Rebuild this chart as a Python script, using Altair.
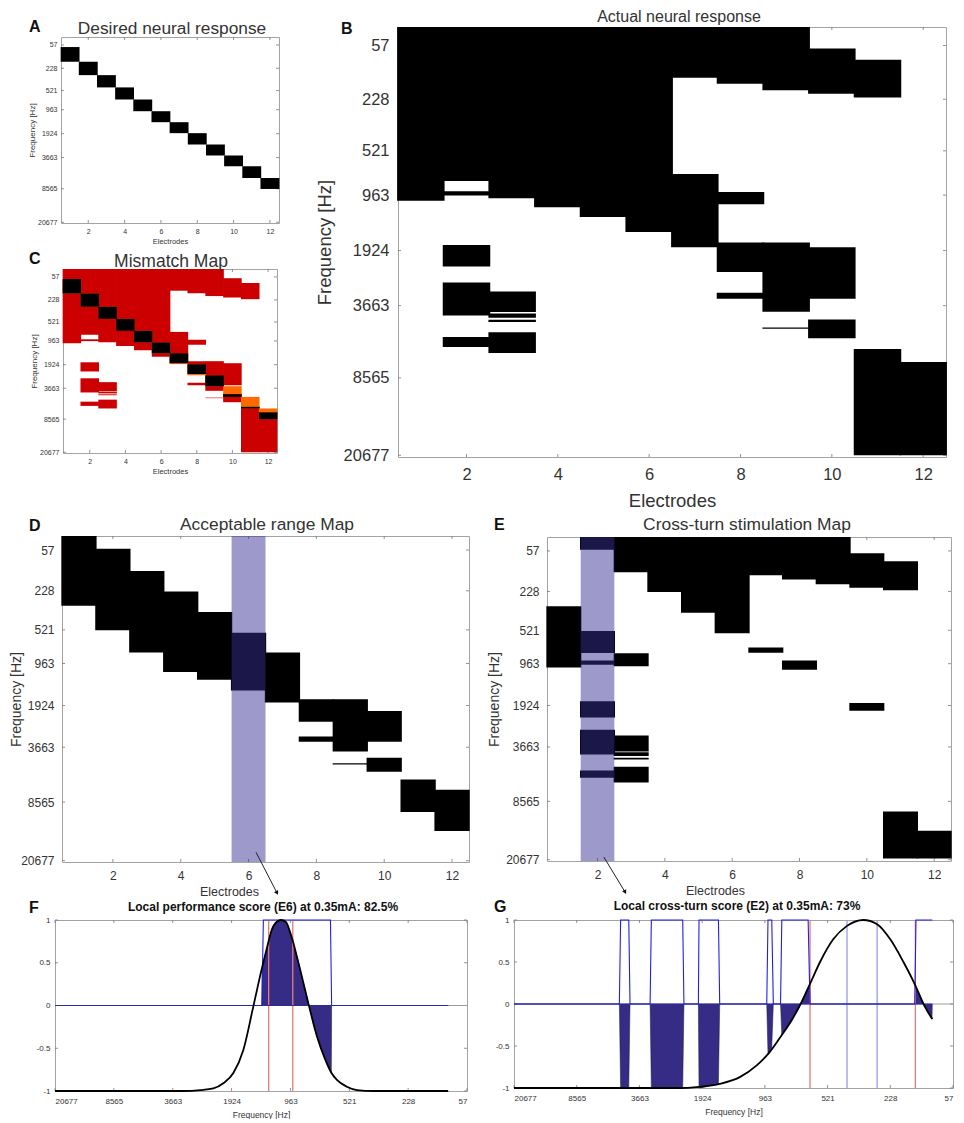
"""Neural response maps: desired, actual, mismatch, acceptable range, cross-turn,
plus the two local score curves underneath.

Map values are in percent of the way down the frequency axis (0 = top edge,
100 = bottom edge), since the axis is not a plain log scale.
"""
import json

import altair as alt
import pandas as pd

FONT = "Liberation Sans"
_INK = "#333333"
_FRAME = "#a3a3a3"
_RED = "#cc0000"
_ORANGE = "#ff6a00"
_PURPLE = "#382e92"   # see-through: pale lilac on white, navy on black
_FILL = "#362c86"
_BLUE = "#2020e0"

FREQ_TICKS = [4.3, 16.8, 28.8, 39.1, 52.0, 64.8, 81.6, 99.6]
FREQ_LABELS = ["57", "228", "521", "963", "1924", "3663", "8565", "20677"]
ELECTRODE_TICKS = [2, 4, 6, 8, 10, 12]

# F and G run along the frequency axis backwards, one unit per label
SCORE_X_TICKS = [0, 1, 2, 3, 4, 5, 6, 7]
SCORE_X_LABELS = ["20677", "8565", "3663", "1924", "963", "521", "228", "57"]
SCORE_Y_TICKS = [-1, -0.5, 0, 0.5, 1]

# A: desired response
A_ELECTRODE = [1, 2, 3, 4, 5, 6, 7, 8, 9, 10, 11, 12]
A_TOP = [5.4, 13.3, 20.5, 27.1, 33.6, 39.9, 45.8, 51.7, 57.8, 63.7, 69.5, 75.8]
A_BOTTOM = [13.3, 20.5, 27.1, 33.6, 39.9, 45.8, 51.7, 57.8, 63.7, 69.5, 75.8, 81.7]

# B: actual response
B_ELECTRODE = [1, 2, 2, 2, 2, 2, 3, 3, 3, 3, 3, 4, 5, 6, 7, 7, 8, 8, 8, 8,
               9, 9, 9, 10, 10, 10, 11, 11, 12]
B_TOP = [0, 0, 38.2, 50.7, 59.4, 72.1, 0, 61.5, 66.6, 68.1, 71.0, 0, 0, 0, 0, 34.2,
         0, 38.4, 50.1, 61.8, 0, 50.1, 69.9, 5.0, 51.2, 68.0, 7.6, 74.9, 77.9]
B_BOTTOM = [40.4, 35.8, 39.2, 55.7, 67.1, 74.4, 39.8, 66.3, 67.6, 68.6, 75.8, 41.9,
            44.2, 47.7, 11.8, 51.2, 13.2, 41.2, 57.0, 63.2, 14.7, 66.2, 70.2, 15.5,
            63.2, 72.4, 16.4, 99.6, 99.6]

# D: acceptable range
D_ELECTRODE = [1, 2, 3, 4, 5, 6, 7, 8, 8, 9, 9, 10, 10, 11, 12]
D_TOP = [0, 3.9, 10.7, 17.0, 23.3, 29.7, 35.7, 50.1, 61.5, 50.1, 69.7, 53.7, 68.0, 74.7, 77.8]
D_BOTTOM = [21.4, 28.9, 35.7, 41.7, 44.1, 47.4, 51.1, 57.0, 63.1, 66.1, 70.1, 63.1, 72.3, 84.7, 90.5]

# E: cross-turn stimulation
E_ELECTRODE = [1, 2, 2, 2, 2, 2, 2, 3, 3, 3, 3, 3, 3, 4, 5, 6, 7, 7, 8, 8, 9, 10, 10, 11, 11, 12]
E_TOP = [21.4, 0, 29.0, 38.1, 50.7, 59.5, 72.1, 0, 35.9, 61.3, 66.4, 68.1, 70.9, 0, 0, 0,
         0, 34.1, 0, 38.1, 0, 5.0, 51.2, 7.5, 84.7, 90.7]
E_BOTTOM = [40.3, 3.9, 35.8, 39.4, 55.7, 67.1, 74.3, 10.9, 39.9, 66.2, 67.6, 68.7, 75.8, 17.0,
            23.4, 29.7, 11.8, 35.7, 13.1, 41.0, 14.6, 15.7, 53.6, 16.4, 99.2, 99.2]

# F: local performance score, electrode 6
F_CURVE_X = [0, 2.18, 2.47, 2.69, 2.86, 3.03, 3.2, 3.37, 3.51, 3.6, 3.68, 3.77, 3.84,
             3.92, 4.02, 4.14, 4.31, 4.45, 4.59, 4.69, 4.79, 4.96, 5.13, 5.41, 6.68]
F_CURVE_Y = [-1, -1, -0.99, -0.97, -0.91, -0.79, -0.52, -0.01, 0.42, 0.67, 0.88, 0.98, 1,
             0.98, 0.8, 0.49, 0.01, -0.36, -0.63, -0.78, -0.87, -0.95, -0.99, -1, -1]
F_RESPONSE_X = [0, 3.515, 3.54, 4.68, 4.70, 6.68]
F_RESPONSE_Y = [0, 0, 1, 1, 0, 0]
F_FILL_SEG = [1, 1, 1, 1, 1, 1, 1, 1, 1, 1, 1, 1, 1, 1, 1]
F_FILL_X = [3.515, 3.52, 3.6, 3.68, 3.77, 3.84, 3.92, 4.02, 4.14, 4.31, 4.45, 4.59, 4.69, 4.695, 4.70]
F_FILL_Y = [0, 0.42, 0.67, 0.88, 0.98, 1, 0.98, 0.8, 0.49, 0.01, -0.36, -0.63, -0.78, -0.8, 0]
F_RED_X = [3.63, 4.04]
F_PALE_X = []

# G: local cross-turn score, electrode 2
G_CURVE_X = [0, 2.65, 2.91, 3.28, 3.6, 3.87, 4.08, 4.27, 4.43, 4.57, 4.72, 4.88, 5.09,
             5.31, 5.57, 5.79, 6.0, 6.21, 6.4, 6.53, 6.67]
G_CURVE_Y = [-1, -1, -0.99, -0.95, -0.87, -0.73, -0.57, -0.37, -0.19, 0, 0.24, 0.5, 0.77,
             0.93, 1, 0.95, 0.77, 0.5, 0.22, 0, -0.18]
G_RESPONSE_X = [0, 1.68, 1.70, 1.83, 1.85, 2.17, 2.19, 2.69, 2.71, 2.94, 2.95, 3.26, 3.28,
                4.03, 4.05, 4.11, 4.135, 4.25, 4.27, 4.69, 4.72, 6.39, 6.41, 6.67]
G_RESPONSE_Y = [0, 0, 1, 1, 0, 0, 1, 1, 0, 0, 1, 1, 0, 0, 1, 1, 0, 0, 1, 1, 0, 0, 1, 1]
G_FILL_SEG = [1, 1, 1, 1, 2, 2, 2, 2, 3, 3, 3, 3, 4, 4, 4, 4, 5, 5, 5, 5, 5, 5, 6, 6, 6, 6, 6]
G_FILL_X = [1.68, 1.70, 1.83, 1.85, 2.17, 2.19, 2.69, 2.71, 2.94, 2.95, 3.26, 3.28,
            4.03, 4.05, 4.11, 4.135, 4.25, 4.27, 4.43, 4.57, 4.72, 4.725,
            6.39, 6.41, 6.53, 6.665, 6.67]
G_FILL_Y = [0, -1, -1, 0, 0, -1, -1, 0, 0, -1, -0.95, 0,
            0, -0.6, -0.52, 0, 0, -0.37, -0.19, 0, 0.24, 0,
            0, 0.2, 0, -0.18, 0]
G_RED_X = [4.72, 6.4]
G_PALE_X = [5.31, 5.79]


def lookup_expr(values, labels):
    return f"{json.dumps(labels)}[indexof({json.dumps(values)}, datum.value)]"


def one_row(**kw):
    return alt.Chart(pd.DataFrame([kw]))


def panel_letter(letter, x, y):
    return one_row(t=letter).mark_text(
        font=FONT, fontSize=16, fontWeight="bold", color="#111111", align="left", baseline="middle"
    ).encode(x=alt.value(x), y=alt.value(y), text="t:N")


def panel_title(text, x, y, size, weight="normal", color=_INK):
    # drawn as a mark: a real title gets pushed up above the panel letter
    return one_row(t=text).mark_text(
        font=FONT, fontSize=size, fontWeight=weight, color=color, align="center", baseline="alphabetic"
    ).encode(x=alt.value(x), y=alt.value(y), text="t:N")


def inner_ticks(xs, ys, x_scale, y_scale, x_axis, y_axis, w, h, tl=3):
    """MATLAB-style ticks pointing into the box, on all four sides."""
    xdf = pd.DataFrame({"x": xs})
    ydf = pd.DataFrame({"y": ys})
    tick = dict(color="#777777", strokeWidth=0.8)
    return [
        alt.Chart(xdf).mark_rule(**tick).encode(
            x=alt.X("x:Q", scale=x_scale, axis=x_axis), y=alt.value(h), y2=alt.value(h - tl)),
        alt.Chart(xdf).mark_rule(**tick).encode(
            x=alt.X("x:Q", scale=x_scale), y=alt.value(0), y2=alt.value(tl)),
        alt.Chart(ydf).mark_rule(**tick).encode(
            y=alt.Y("y:Q", scale=y_scale, axis=y_axis), x=alt.value(0), x2=alt.value(tl)),
        alt.Chart(ydf).mark_rule(**tick).encode(
            y=alt.Y("y:Q", scale=y_scale), x=alt.value(w - tl), x2=alt.value(w)),
    ]


_E_SCALE = alt.Scale(domain=[0.5, 12.5], nice=False, zero=False)
_P_SCALE = alt.Scale(domain=[100, 0], nice=False, zero=False)


def bands(electrodes, tops, bottoms, color, overlap=0.02, **mark):
    # columns overlap a hair, otherwise hairlines show between neighbours
    df = pd.DataFrame({"e0": [e - 0.5 - overlap for e in electrodes],
                       "e1": [e + 0.5 + overlap for e in electrodes],
                       "top": tops, "bottom": bottoms})
    return alt.Chart(df).mark_rect(color=color, **mark).encode(
        x=alt.X("e0:Q", scale=_E_SCALE), x2="e1:Q",
        y=alt.Y("top:Q", scale=_P_SCALE), y2="bottom:Q")


def arrow(x0, y0, x1, y1):
    df = pd.DataFrame({"x": [x0], "y": [y0], "x2": [x1], "y2": [y1]})
    line = alt.Chart(df).mark_rule(color="#222222", strokeWidth=1).encode(
        x=alt.X("x:Q", scale=_E_SCALE), x2="x2:Q",
        y=alt.Y("y:Q", scale=_P_SCALE), y2="y2:Q")
    head = alt.Chart(df).mark_point(shape="triangle-down", filled=True, size=22, opacity=1,
                                    color="#111111", angle=333).encode(
        x=alt.X("x2:Q", scale=_E_SCALE),
        y=alt.Y("y2:Q", scale=_P_SCALE))
    return [line, head]


def map_panel(layers, w, h, title, title_size, title_xy, label_size, xtitle_size, ytitle_size,
              letter, letter_xy, xtitle_x=None, title_pad=4, label_pad=6, ytitle_pad=4):
    x_kw = {} if xtitle_x is None else {"titleX": xtitle_x}
    # tickCount has to cover every value, or vega drops every other one on short panels
    x_axis = alt.Axis(values=ELECTRODE_TICKS, tickCount=len(ELECTRODE_TICKS), title="Electrodes", ticks=False,
                      domain=False, grid=False, labelAngle=0, labelFont=FONT, labelFontSize=label_size,
                      labelColor=_INK, labelPadding=label_pad, titleFont=FONT, titleFontSize=xtitle_size,
                      titleFontWeight="normal", titleColor=_INK, titlePadding=title_pad, **x_kw)
    y_axis = alt.Axis(values=FREQ_TICKS, tickCount=len(FREQ_TICKS), labelExpr=lookup_expr(FREQ_TICKS, FREQ_LABELS),
                      title="Frequency [Hz]", ticks=False, domain=False, grid=False,
                      labelFont=FONT, labelFontSize=label_size, labelColor=_INK, labelPadding=label_pad,
                      titleFont=FONT, titleFontSize=ytitle_size, titleFontWeight="normal",
                      titleColor=_INK, titlePadding=ytitle_pad)
    ticks = inner_ticks(ELECTRODE_TICKS, FREQ_TICKS, _E_SCALE, _P_SCALE, x_axis, y_axis, w, h)
    return alt.layer(*ticks, *layers, panel_title(title, *title_xy, title_size),
                     panel_letter(letter, *letter_xy)).properties(width=w, height=h)


def score_panel(curve_x, curve_y, resp_x, resp_y, seg, fill_x, fill_y, red_x, pale_x,
                w, h, title, title_xy, letter, letter_xy):
    x_scale = alt.Scale(domain=[0, 7], nice=False, zero=False)
    y_scale = alt.Scale(domain=[-1, 1], nice=False, zero=False)
    x_axis = alt.Axis(values=SCORE_X_TICKS, tickCount=len(SCORE_X_TICKS),
                      labelExpr=lookup_expr(SCORE_X_TICKS, SCORE_X_LABELS),
                      title="Frequency [Hz]", ticks=False, domain=False, grid=False, labelAngle=0,
                      labelFont=FONT, labelFontSize=8, labelColor=_INK, labelPadding=6,
                      titleFont=FONT, titleFontSize=8.5, titleFontWeight="normal", titleColor=_INK,
                      titlePadding=5)
    y_axis = alt.Axis(values=SCORE_Y_TICKS, tickCount=len(SCORE_Y_TICKS), labelExpr="'' + datum.value",
                      title=None, ticks=False, domain=False, grid=False,
                      labelFont=FONT, labelFontSize=8, labelColor=_INK, labelPadding=5)
    X = lambda f: alt.X(f, scale=x_scale)
    Y = lambda f: alt.Y(f, scale=y_scale)
    ticks = inner_ticks(SCORE_X_TICKS, SCORE_Y_TICKS, x_scale, y_scale, x_axis, y_axis, w, h)

    zero = alt.Chart(pd.DataFrame({"x": [0], "x2": [7], "y": [0]})).mark_rule(
        color="#9a9a9a", strokeWidth=1).encode(x=X("x:Q"), x2="x2:Q", y=Y("y:Q"))
    fill = alt.Chart(pd.DataFrame({"seg": seg, "x": fill_x, "y": fill_y, "z": [0] * len(seg)})).mark_area(
        color=_FILL, opacity=1, line={"color": "#1a1a40", "strokeWidth": 0.5}).encode(
        x=X("x:Q"), y=Y("y:Q"), y2="z:Q", detail="seg:N")
    layers = [zero, fill]
    if pale_x:
        layers.append(alt.Chart(pd.DataFrame({"x": pale_x})).mark_rule(
            color="#9c9ce6", strokeWidth=1.3).encode(x=X("x:Q")))
    layers.append(alt.Chart(pd.DataFrame({"x": red_x})).mark_rule(
        color="#e67a7a", strokeWidth=1.3).encode(x=X("x:Q")))
    response = alt.Chart(pd.DataFrame({"x": resp_x, "y": resp_y})).mark_line(
        color=_BLUE, strokeWidth=1.1).encode(x=X("x:Q"), y=Y("y:Q"))
    baseline = alt.Chart(pd.DataFrame({"x": [0, resp_x[-1]], "y": [0, 0]})).mark_line(
        color="#2a2a9a", strokeWidth=1).encode(x=X("x:Q"), y=Y("y:Q"))
    curve = alt.Chart(pd.DataFrame({"x": curve_x, "y": curve_y})).mark_line(
        color="#000000", strokeWidth=1.8, interpolate="monotone").encode(x=X("x:Q"), y=Y("y:Q"))
    return alt.layer(*ticks, *layers, response, baseline, curve,
                     panel_title(title, *title_xy, 12, "bold", "#111111"),
                     panel_letter(letter, *letter_xy)).properties(width=w, height=h)


# C: red where the response is, orange where it was wanted, black where they meet
hit_e, hit_top, hit_bottom = [], [], []
for ae, at, ab in zip(A_ELECTRODE, A_TOP, A_BOTTOM):
    for be, bt, bb in zip(B_ELECTRODE, B_TOP, B_BOTTOM):
        if ae == be and max(at, bt) < min(ab, bb):
            hit_e.append(ae)
            hit_top.append(max(at, bt))
            hit_bottom.append(min(ab, bb))

panel_a = map_panel([bands(A_ELECTRODE, A_TOP, A_BOTTOM, "#000000")], 218, 186,
                    "Desired neural response", 17.3, (111, -3), 7, 7.5, 8, "A", (-32, -10),
                    title_pad=3, label_pad=4, ytitle_pad=1)
panel_c = map_panel([bands(B_ELECTRODE, B_TOP, B_BOTTOM, _RED),
                     bands(A_ELECTRODE, A_TOP, A_BOTTOM, _ORANGE),
                     bands(hit_e, hit_top, hit_bottom, "#000000")], 214, 184,
                    "Mismatch Map", 17.5, (108, -2), 7, 7.5, 8, "C", (-34, -10),
                    title_pad=3, label_pad=4, ytitle_pad=1)
panel_b = map_panel([bands(B_ELECTRODE, B_TOP, B_BOTTOM, "#000000")], 548, 430,
                    "Actual neural response", 16, (281, -5), 16.5, 18.5, 18.5, "B", (-57, 2),
                    title_pad=9, label_pad=9, ytitle_pad=9)
panel_d = map_panel([bands(D_ELECTRODE, D_TOP, D_BOTTOM, "#000000"),
                     bands([6], [0], [100], _PURPLE, overlap=0, opacity=0.49),
                     *arrow(6.22, 97, 6.84, 109.5)], 407, 326,
                    "Acceptable range Map", 17.4, (205, -6), 12, 12.5, 14, "D", (-33, -10),
                    xtitle_x=167, title_pad=4, label_pad=8, ytitle_pad=-3)
panel_e = map_panel([bands(E_ELECTRODE, E_TOP, E_BOTTOM, "#000000"),
                     bands([2], [0], [100], _PURPLE, overlap=0, opacity=0.49),
                     *arrow(2.19, 98.8, 2.82, 109.6)], 404, 324,
                    "Cross-turn stimulation Map", 17.4, (200, -7), 12, 12.5, 14, "E", (-53, -12),
                    xtitle_x=168, title_pad=4, label_pad=8, ytitle_pad=4)
panel_f = score_panel(F_CURVE_X, F_CURVE_Y, F_RESPONSE_X, F_RESPONSE_Y, F_FILL_SEG, F_FILL_X, F_FILL_Y,
                      F_RED_X, F_PALE_X, 412, 171,
                      "Local performance score (E6) at 0.35mA: 82.5%", (208, -9), "F", (-26, -12))
panel_g = score_panel(G_CURVE_X, G_CURVE_Y, G_RESPONSE_X, G_RESPONSE_Y, G_FILL_SEG, G_FILL_X, G_FILL_Y,
                      G_RED_X, G_PALE_X, 439, 168,
                      "Local cross-turn score (E2) at 0.35mA: 73%", (223, -10), "G", (-20, -13))


def spacer():
    # empty cell, only here to push its neighbours along
    return one_row(t=0).mark_point(opacity=0).encode(x=alt.value(0), y=alt.value(0)).properties(
        width=1, height=1, view=alt.ViewConfig(stroke="transparent"))


left = alt.vconcat(panel_a, panel_c, spacing=46, bounds="flush", center=True)
row1 = alt.hconcat(
    spacer(),
    alt.hconcat(alt.vconcat(spacer(), left, spacing=11), alt.vconcat(spacer(), panel_b, spacing=1), spacing=34),
    spacing=23)
row2 = alt.hconcat(spacer(), alt.hconcat(panel_d, panel_e, spacing=78, bounds="flush", center=True), spacing=4)
row3 = alt.hconcat(spacer(), alt.hconcat(panel_f, panel_g, spacing=47, bounds="flush"), spacing=23)

chart = alt.vconcat(row1, alt.vconcat(row2, row3, spacing=0), spacing=4).properties(
    padding={"left": -11, "top": -9, "right": 0, "bottom": 0}
).configure_view(stroke=_FRAME).configure_axis(labelOverlap=False)

chart.save("out.html", embed_options={"renderer": "svg", "actions": False})
